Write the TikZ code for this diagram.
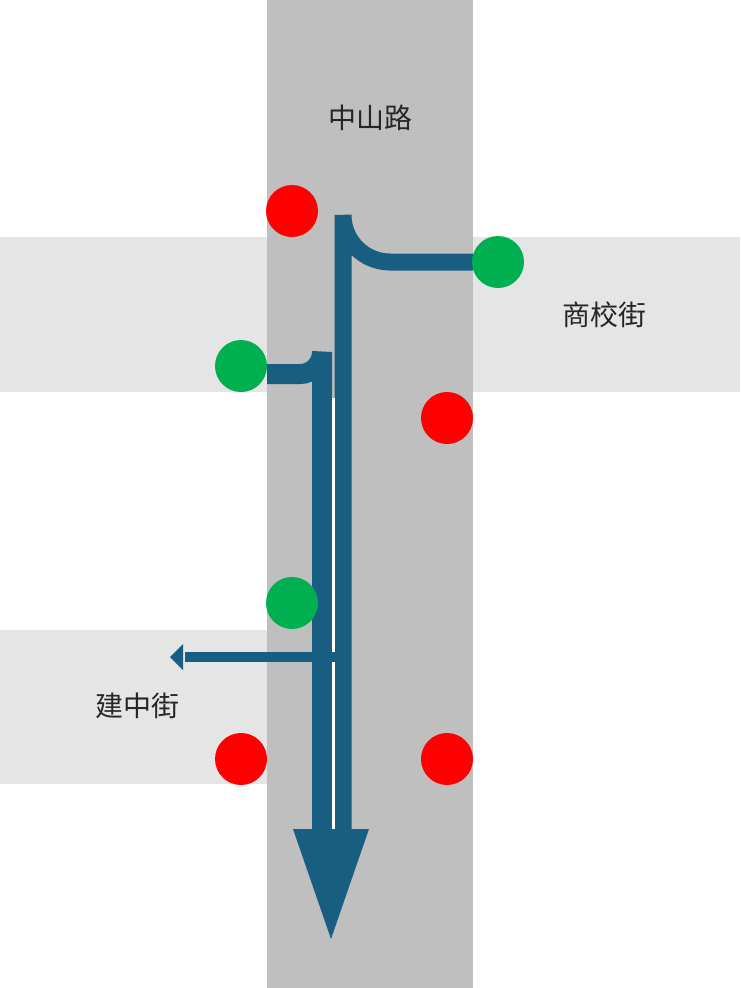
\documentclass[tikz,border=0pt]{standalone}
\usepackage{fontspec}
\newfontfamily\cjk{Noto Sans CJK TC}
\begin{document}
\begin{tikzpicture}[x=1pt,y=-1pt,
  red dot/.style={fill=red},
  green dot/.style={fill={rgb,255:red,0;green,176;blue,80}},
  lbl/.style={font=\cjk\fontsize{28}{32}\selectfont,text=black!85}]
\definecolor{route}{RGB}{24,94,128}
\useasboundingbox (0,0) rectangle (740,988);
\fill[white] (0,0) rectangle (740,988);
\fill[black!10] (0,237) rectangle (740,392);
\fill[black!10] (0,630) rectangle (267,784);
\fill[black!25] (267,0) rectangle (473,988);
\node[lbl] (zs) at (370,118) {中山路};
\node[lbl] (sx) at (604,315) {商校街};
\node[lbl] (jz) at (137,706) {建中街};
% routes
\draw[route,line width=17] (473,262) -- (390,262) arc[start angle=90,end angle=180,radius=47] -- (343,830);
\draw[route,line width=20] (267,374) -- (300,374) arc[start angle=90,end angle=0,radius=22] -- (322,830);
\draw[white,line width=3] (333,398) -- (333,829);
\fill[route] (293,829) -- (369,829) -- (331,939) -- cycle;
\draw[route,line width=10] (343,657) -- (185,657);
\fill[route] (170,657) -- (183,644) -- (183,670) -- cycle;
% lights
\fill[red dot] (292,211) circle (26);
\fill[red dot] (447,418) circle (26);
\fill[red dot] (241,759) circle (26);
\fill[red dot] (447,759) circle (26);
\fill[green dot] (498,262) circle (26);
\fill[green dot] (241,366) circle (26);
\fill[green dot] (292,603) circle (26);
\end{tikzpicture}
\end{document}
